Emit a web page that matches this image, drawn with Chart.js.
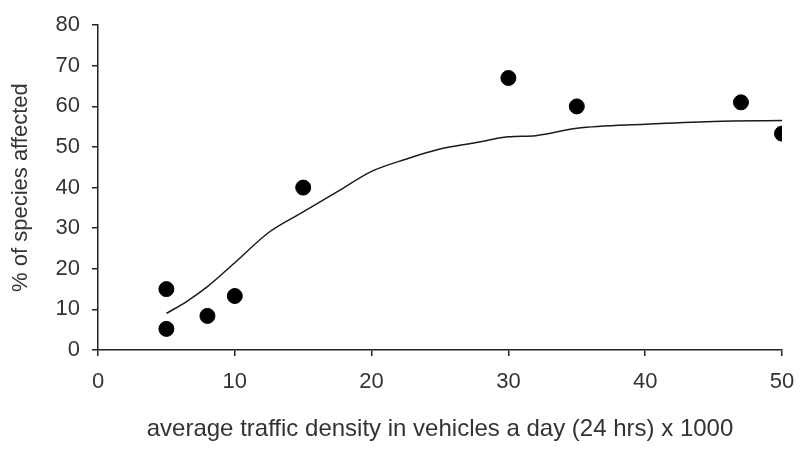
<!DOCTYPE html>
<html>
<head>
<meta charset="utf-8">
<script src="https://cdn.jsdelivr.net/npm/chart.js@4.4.1/dist/chart.umd.min.js"></script>
<style>
  html, body { margin: 0; padding: 0; background: #fff; }
  #wrap { width: 800px; height: 450px; }
</style>
</head>
<body>
<div id="wrap"><canvas id="trafficChart"></canvas></div>
<script>
// Observed sites: traffic density (x1000 vehicles/day) vs % species affected
const densityObs = [5, 5, 8, 10, 15, 30, 35, 47, 50];
const affectedObs = [5.2, 15, 8.4, 13.3, 40, 67, 60, 61, 53.3];

// Fitted trend curve
const densityFit = [5, 6.5, 8, 10, 12.5, 15, 17.5, 20, 22.5, 25, 27.5, 30, 32, 35, 40, 45, 50];
const affectedFit = [9, 12, 15.6, 21.5, 29, 34, 39, 44, 47, 49.5, 51, 52.5, 52.8, 54.6, 55.6, 56.3, 56.5];

const xTicks = [0, 10, 20, 30, 40, 50];
const yTicks = [0, 10, 20, 30, 40, 50, 60, 70, 80];

document.addEventListener('DOMContentLoaded', () => {
  const ctx = document.getElementById('trafficChart').getContext('2d');

  new Chart(ctx, {
    type: 'scatter',
    data: {
      datasets: [
        {
          type: 'line',
          label: 'fit',
          data: densityFit.map((x, i) => ({ x, y: affectedFit[i] })),
          borderColor: '#1a1a1a',
          borderWidth: 1.5,
          pointRadius: 0,
          tension: 0.3,
          cubicInterpolationMode: 'monotone',
          fill: false
        },
        {
          label: 'observed',
          data: densityObs.map((x, i) => ({ x, y: affectedObs[i] })),
          backgroundColor: '#000',
          borderColor: '#000',
          pointRadius: 7.5,
          pointHoverRadius: 7.5
        }
      ]
    },
    options: {
      responsive: true,
      maintainAspectRatio: false,
      animation: false,
      layout: { padding: { left: 8, right: 18, top: 24, bottom: 6 } },
      plugins: {
        legend: { display: false },
        tooltip: { enabled: false }
      },
      scales: {
        x: {
          type: 'linear',
          min: 0,
          max: 50,
          afterBuildTicks: (scale) => { scale.ticks = xTicks.map(v => ({ value: v })); },
          afterFit: (scale) => {
            scale.height = 94;
            // keep the last label's overhang from shrinking the plot
            scale.paddingLeft = 0;
            scale.paddingRight = 0;
          },
          grid: { drawOnChartArea: false, drawTicks: true, tickLength: 6, color: '#222', lineWidth: 1.5 },
          border: { display: true, color: '#222', width: 1.5 },
          ticks: { color: '#333', font: { family: 'Liberation Sans', size: 22 }, padding: 13 },
          title: {
            display: true,
            text: 'average traffic density in vehicles a day (24 hrs) x 1000',
            color: '#333',
            font: { family: 'Liberation Sans', size: 24 },
            padding: 0
          }
        },
        y: {
          min: 0,
          max: 80,
          afterBuildTicks: (scale) => { scale.ticks = yTicks.map(v => ({ value: v })); },
          afterFit: (scale) => { scale.width = 90; },
          grid: { drawOnChartArea: false, drawTicks: true, tickLength: 6, color: '#222', lineWidth: 1.5 },
          border: { display: true, color: '#222', width: 1.5 },
          ticks: { color: '#333', font: { family: 'Liberation Sans', size: 22 }, padding: 12 },
          title: {
            display: true,
            text: '% of species affected',
            color: '#333',
            font: { family: 'Liberation Sans', size: 22 },
            padding: 0
          }
        }
      }
    }
  });
});
</script>
</body>
</html>
